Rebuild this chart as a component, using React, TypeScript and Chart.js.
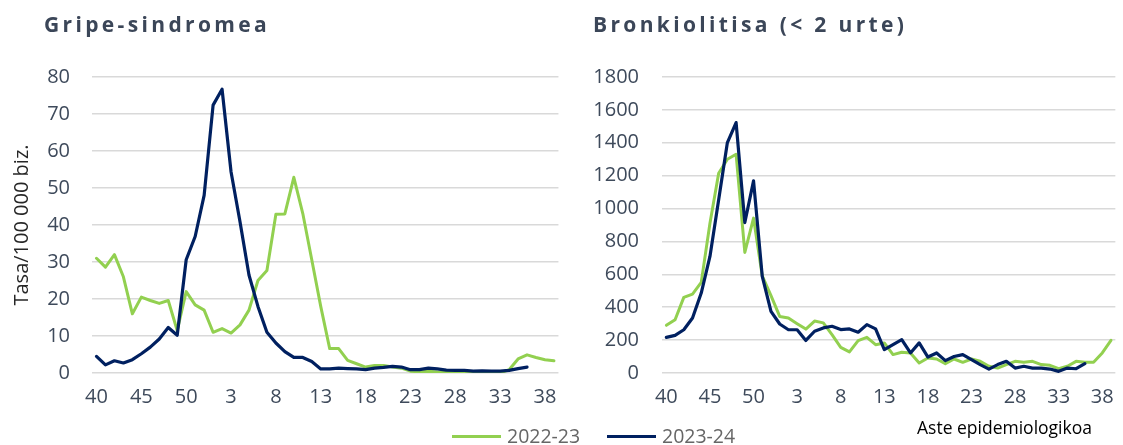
import React, { useEffect, useRef } from 'react';
import { Chart, registerables } from 'chart.js';

Chart.register(...registerables);

const weeks = [40, 41, 42, 43, 44, 45, 46, 47, 48, 49, 50, 51, 52, 1, 2, 3, 4, 5, 6, 7, 8, 9, 10, 11, 12, 13, 14, 15, 16, 17, 18, 19, 20, 21, 22, 23, 24, 25, 26, 27, 28, 29, 30, 31, 32, 33, 34, 35, 36, 37, 38, 39];

const seriesNames = ['2022-23', '2023-24'];

const gripe2223 = [31, 28.6, 32, 26, 16, 20.5, 19.6, 18.8, 19.6, 11.5, 22, 18.4, 17, 11, 12, 10.8, 13, 17, 25, 27.7, 42.9, 43, 52.9, 43.1, 30.6, 18, 6.6, 6.6, 3.4, 2.5, 1.6, 2, 2, 1.6, 1.3, 0.5, 0.3, 0.5, 0.3, 0.2, 0, 0, 0, 0, 0, 0, 0.9, 3.8, 4.9, 4.2, 3.6, 3.3];
const gripe2324 = [4.5, 2.2, 3.3, 2.7, 3.6, 5.2, 7, 9.2, 12.3, 10.2, 30.6, 36.9, 48, 72.4, 76.7, 54.4, 40.9, 26.5, 18, 11, 8.1, 5.8, 4.2, 4.2, 3.1, 1.1, 1.1, 1.3, 1.2, 1.1, 0.9, 1.3, 1.5, 1.8, 1.6, 0.9, 0.9, 1.3, 1.1, 0.8, 0.7, 0.7, 0.5, 0.6, 0.5, 0.5, 0.7, 1.2, 1.6, null, null, null];

const bronk2223 = [290, 324, 460, 480, 551, 911, 1215, 1300, 1330, 733, 942, 590, 470, 344, 334, 300, 267, 316, 305, 233, 156, 128, 197, 217, 172, 183, 112, 126, 122, 61, 91, 85, 57, 85, 65, 85, 71, 41, 30, 51, 71, 65, 71, 51, 47, 26, 41, 71, 65, 65, 122, 199];
const bronk2324 = [217, 229, 263, 334, 486, 709, 1053, 1401, 1523, 915, 1168, 587, 375, 298, 263, 263, 198, 254, 274, 284, 264, 268, 248, 294, 268, 142, 173, 203, 122, 183, 97, 122, 75, 100, 112, 81, 51, 24, 51, 71, 30, 41, 30, 30, 24, 10, 30, 26, 57, null, null, null];

const GREEN = '#92D050';
const BLUE = '#002060';
const TICK_COLOR = '#3E4A5B';
const FONT = "'Open Sans', sans-serif";

type PanelProps = {
  left: number;
  width: number;
  yAxisWidth: number;
  rightPad: number;
  yMax: number;
  yStep: number;
  labelPad: number;
  green: (number | null)[];
  blue: (number | null)[];
  yTitle?: string;
};

function Panel(props: PanelProps) {
  const ref = useRef<HTMLCanvasElement | null>(null);
  useEffect(() => {
    if (!ref.current) return;
    const chart = new Chart(ref.current, {
      type: 'line',
      data: {
        labels: weeks.map(String),
        datasets: [
          {
            label: seriesNames[0],
            data: props.green,
            borderColor: GREEN,
            backgroundColor: GREEN,
            borderWidth: 3,
            pointRadius: 0,
            tension: 0,
            borderJoinStyle: 'round',
            borderCapStyle: 'round',
            order: 1,
          },
          {
            label: seriesNames[1],
            data: props.blue,
            borderColor: BLUE,
            backgroundColor: BLUE,
            borderWidth: 3.2,
            pointRadius: 0,
            tension: 0,
            borderJoinStyle: 'round',
            borderCapStyle: 'round',
            order: 0,
          },
        ],
      },
      options: {
        animation: false,
        responsive: false,
        maintainAspectRatio: false,
        layout: { padding: { top: 77, left: 0, right: props.rightPad, bottom: 0 } },
        plugins: { legend: { display: false }, tooltip: { enabled: false } },
        scales: {
          x: {
            offset: true,
            grid: { display: false, drawTicks: false },
            border: { display: false },
            ticks: {
              autoSkip: false,
              maxRotation: 0,
              minRotation: 0,
              padding: 12,
              color: TICK_COLOR,
              font: { family: FONT, size: 20 },
              callback: (_v: any, i: number) => (i % 5 === 0 ? String(weeks[i]) : ''),
            },
            afterFit: (s: any) => {
              s.height = 72;
            },
          },
          y: {
            min: 0,
            max: props.yMax,
            ticks: {
              stepSize: props.yStep,
              padding: props.labelPad,
              color: TICK_COLOR,
              font: { family: FONT, size: 20 },
              callback: (v: any) => String(v),
            },
            grid: { color: '#D9D9D9', lineWidth: 1.5, drawTicks: false },
            border: { display: false },
            title: props.yTitle
              ? {
                  display: true,
                  text: props.yTitle,
                  color: '#262626',
                  font: { family: FONT, size: 20 },
                  padding: { top: 10, bottom: 0 },
                }
              : { display: false },
            afterFit: (s: any) => {
              s.width = props.yAxisWidth;
            },
          },
        },
      },
    } as any);
    return () => chart.destroy();
  }, []);
  return (
    <div style={{ position: 'absolute', left: props.left, top: 0, width: props.width, height: 445 }}>
      <canvas ref={ref} width={props.width} height={445} style={{ width: props.width, height: 445, display: 'block' }} />
    </div>
  );
}

const titleStyle: React.CSSProperties = {
  position: 'absolute',
  top: 11,
  fontFamily: FONT,
  fontWeight: 700,
  fontSize: 21,
  lineHeight: '26px',
  letterSpacing: '3.35px',
  color: '#3B4658',
  whiteSpace: 'nowrap',
};

const legendText: React.CSSProperties = {
  position: 'absolute',
  top: 424,
  fontFamily: FONT,
  fontSize: 19.5,
  lineHeight: '24px',
  color: '#666666',
  whiteSpace: 'nowrap',
};

export default function App() {
  return (
    <div style={{ position: 'absolute', left: 0, top: 0, width: 1123, height: 445, background: '#fff', overflow: 'hidden' }}>
      <Panel left={0} width={566} yAxisWidth={92} rightPad={5} yMax={80} yStep={10} labelPad={22} green={gripe2223} blue={gripe2324} yTitle="Tasa/100 000 biz." />
      <Panel left={566} width={557} yAxisWidth={96} rightPad={2} yMax={1800} yStep={200} labelPad={23} green={bronk2223} blue={bronk2324} />
      <div style={{ ...titleStyle, left: 44 }}>Gripe-sindromea</div>
      <div style={{ ...titleStyle, left: 593 }}>Bronkiolitisa (&lt; 2 urte)</div>
      <div
        style={{
          position: 'absolute',
          left: 917,
          top: 416,
          fontFamily: FONT,
          fontSize: 17.5,
          lineHeight: '22px',
          color: '#000',
          whiteSpace: 'nowrap',
        }}
      >
        Aste epidemiologikoa
      </div>
      <div style={{ position: 'absolute', left: 452, top: 435, width: 49, height: 3, background: GREEN }} />
      <div style={{ ...legendText, left: 507 }}>{seriesNames[0]}</div>
      <div style={{ position: 'absolute', left: 607, top: 435, width: 49, height: 3, background: BLUE }} />
      <div style={{ ...legendText, left: 662 }}>{seriesNames[1]}</div>
    </div>
  );
}
